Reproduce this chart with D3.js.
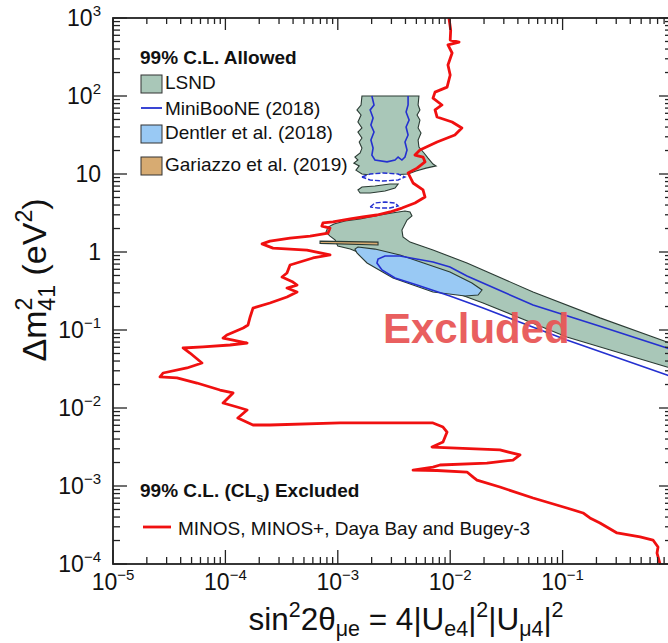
<!DOCTYPE html>
<html>
<head>
<meta charset="utf-8">
<script src="https://cdn.jsdelivr.net/npm/d3@7"></script>
<style>
  body { margin: 0; background: #fff; }
  text { font-family: "Liberation Sans", Arial, Helvetica, sans-serif; }
</style>
</head>
<body>
<svg id="chart" width="668" height="643"></svg>
<script>
// axis tick labels (powers of ten)
var xTickExp = [-5, -4, -3, -2, -1];
var yTickExp = [-4, -3, -2, -1, 0, 1, 2, 3];

// MINOS, MINOS+, Daya Bay and Bugey-3 exclusion, [sin^2 2theta, dm2]
var minosExcl = [
  [9.75e-3, 1000], [1.01e-2, 702], [1.00e-2, 522], [1.20e-2, 492], [9.55e-3, 451],
  [1.04e-2, 356], [9.55e-3, 250], [1.00e-2, 186], [9.38e-3, 130], [7.33e-3, 112],
  [7.03e-3, 94], [8.45e-3, 76.7], [7.33e-3, 66.2], [7.64e-3, 53.8], [1.04e-2, 46.4],
  [1.27e-2, 38.9], [1.10e-2, 31.6], [7.64e-3, 25.7], [5.38e-3, 20.3], [4.86e-3, 17.5],
  [5.73e-3, 16.5], [5.97e-3, 14.3], [5.07e-3, 11.9], [4.22e-3, 10.3], [4.67e-3, 7.67],
  [5.73e-3, 6.24], [5.97e-3, 5.07], [4.86e-3, 4.25], [3.72e-3, 3.66], [2.91e-3, 3.26],
  [2.23e-3, 2.98], [1.67e-3, 2.81], [1.29e-3, 2.65], [9.06e-4, 2.43], [7.38e-4, 2.36],
  [7.22e-4, 2.15], [8.53e-4, 2.03], [8.19e-4, 1.75], [5.67e-4, 1.60], [3.76e-4, 1.51],
  [2.49e-4, 1.38], [2.12e-4, 1.27], [2.65e-4, 1.12], [5.32e-4, 1.06], [8.53e-4, 0.916],
  [6.01e-4, 0.838], [3.76e-4, 0.681], [3.53e-4, 0.538], [3.19e-4, 0.478], [3.99e-4, 0.412],
  [4.34e-4, 0.377], [3.53e-4, 0.345], [4.34e-4, 0.307], [3.53e-4, 0.265], [2.49e-4, 0.222],
  [1.76e-4, 0.191], [1.66e-4, 0.147], [1.59e-4, 0.116], [1.44e-4, 0.106], [1.03e-4, 0.0863],
  [9.53e-5, 0.0789], [1.17e-4, 0.0744], [1.56e-4, 0.0681], [1.10e-4, 0.0642], [6.33e-5, 0.0606],
  [4.20e-5, 0.0588], [4.84e-5, 0.0507], [6.19e-5, 0.0378], [4.55e-5, 0.0326], [2.79e-5, 0.0281],
  [2.62e-5, 0.0250], [3.71e-5, 0.0243], [5.58e-5, 0.0209], [8.95e-5, 0.0170], [1.17e-4, 0.0156],
  [9.53e-5, 0.0116], [1.27e-4, 0.0103], [1.56e-4, 0.00942], [1.29e-4, 0.00744], [1.76e-4, 0.00605],
  [2.49e-4, 0.00605], [1.05e-3, 0.00643], [7.03e-3, 0.00643], [8.63e-3, 0.00570], [9.38e-3, 0.00492],
  [8.63e-3, 0.00366], [6.89e-3, 0.00316], [2.77e-2, 0.00290], [4.18e-2, 0.00250], [3.62e-2, 0.00215],
  [2.12e-2, 0.00197], [8.11e-3, 0.00186], [7.03e-3, 0.00175], [4.67e-3, 0.00160], [7.64e-3, 0.00158],
  [1.41e-2, 0.00151], [1.60e-2, 0.00130], [1.73e-2, 0.00119], [2.77e-2, 9.70e-4], [5.46e-2, 7.02e-4],
  [0.109, 5.22e-4], [0.152, 4.51e-4], [0.175, 3.89e-4], [0.215, 3.36e-4], [0.305, 2.50e-4],
  [0.489, 2.22e-4], [0.637, 2.03e-4], [0.706, 1.65e-4], [0.692, 1.38e-4], [0.736, 1.0e-4]
];

// LSND 99% allowed regions
var lsndColumn = [
  [1.64e-3, 100], [5.27e-3, 100], [5.18e-3, 76.7], [5.38e-3, 66.2], [5.07e-3, 57.1],
  [5.38e-3, 49.2], [5.18e-3, 38.9], [5.50e-3, 33.6], [5.18e-3, 27.3], [5.27e-3, 22.2],
  [5.85e-3, 18.6], [6.35e-3, 16.0], [7.03e-3, 13.4], [7.48e-3, 12.7], [6.10e-3, 11.9],
  [4.97e-3, 10.9], [4.22e-3, 10.0], [2.91e-3, 9.71], [1.94e-3, 9.71], [1.64e-3, 10.0],
  [1.45e-3, 11.2], [1.55e-3, 12.7], [1.39e-3, 13.8], [1.51e-3, 15.1], [1.42e-3, 16.5],
  [1.58e-3, 18.6], [1.64e-3, 21.5], [1.55e-3, 25.7], [1.64e-3, 29.0], [1.51e-3, 34.5],
  [1.64e-3, 38.9], [1.51e-3, 46.4], [1.61e-3, 57.1], [1.48e-3, 66.2], [1.61e-3, 76.7]
];
var lsndIsland = [
  [1.51e-3, 6.24], [1.64e-3, 6.81], [2.14e-3, 7.02], [2.91e-3, 7.44], [3.44e-3, 7.44],
  [3.23e-3, 6.62], [2.63e-3, 6.06], [1.94e-3, 5.70], [1.58e-3, 5.70]
];
var lsndBand = [
  [4.39e-3, 3.26], [4.57e-3, 2.90], [4.13e-3, 2.57], [3.72e-3, 1.91], [3.80e-3, 1.56],
  [4.39e-3, 1.34], [7.03e-3, 1.06], [1.41e-2, 0.723], [5.46e-2, 0.307], [0.215, 0.143],
  [0.849, 0.0702], [1.36, 0.0555], [1.36, 0.0273], [0.849, 0.0336], [0.109, 0.0813],
  [1.96e-2, 0.222], [8.11e-3, 0.356], [3.57e-3, 0.571], [1.94e-3, 0.863], [1.29e-3, 1.09],
  [1.00e-3, 1.19], [9.44e-4, 1.43], [8.53e-4, 1.60], [7.85e-4, 1.80], [8.19e-4, 2.09],
  [9.25e-4, 2.29], [1.16e-3, 2.50], [1.58e-3, 2.65], [2.14e-3, 2.90], [3.03e-3, 3.16],
  [3.96e-3, 3.36]
];

// Dentler et al. (2018)
var dentler = [
  [1.51e-3, 1.16], [2.14e-3, 1.09], [3.57e-3, 0.916], [9.95e-3, 0.555], [1.56e-2, 0.401],
  [1.92e-2, 0.326], [1.77e-2, 0.281], [1.36e-2, 0.273], [7.03e-3, 0.307], [3.10e-3, 0.464],
  [1.82e-3, 0.723], [1.48e-3, 0.971], [1.42e-3, 1.09]
];

// Gariazzo et al. (2019)
var gariazzo = [[6.95e-4, 1.38], [2.28e-3, 1.34], [2.28e-3, 1.23], [6.95e-4, 1.29]];

// MiniBooNE (2018) contours
var minibooneHigh = [
  [2.01e-3, 100], [2.10e-3, 76.7], [1.94e-3, 66.2], [2.06e-3, 52.2], [1.97e-3, 42.5],
  [2.10e-3, 34.5], [1.97e-3, 27.3], [2.06e-3, 21.5], [2.01e-3, 17.5], [2.14e-3, 15.1],
  [2.74e-3, 14.3], [3.23e-3, 15.1], [3.44e-3, 16.5], [3.72e-3, 15.1], [3.96e-3, 16.5],
  [4.13e-3, 20.3], [3.96e-3, 25.7], [4.22e-3, 31.6], [4.05e-3, 40.1], [4.31e-3, 49.2],
  [4.05e-3, 62.4], [4.22e-3, 76.7], [4.22e-3, 100]
];
var minibooneLow = [
  [1.36, 0.0464], [0.849, 0.0588], [0.215, 0.112], [5.46e-2, 0.209], [1.41e-2, 0.492],
  [9.95e-3, 0.642], [7.03e-3, 0.744], [3.57e-3, 0.889], [2.63e-3, 0.889], [2.28e-3, 0.813],
  [2.23e-3, 0.723], [2.47e-3, 0.588], [3.23e-3, 0.464], [5.07e-3, 0.378], [9.95e-3, 0.273],
  [1.96e-2, 0.191], [0.109, 0.0744], [0.849, 0.0265], [1.36, 0.0209]
];
var minibooneIsl1 = [
  [1.64e-3, 9.16], [1.94e-3, 10.0], [2.52e-3, 10.3], [3.44e-3, 10.0], [3.96e-3, 9.16],
  [3.44e-3, 8.38], [2.52e-3, 8.13], [1.94e-3, 8.38], [1.64e-3, 9.16]
];
var minibooneIsl2 = [
  [1.94e-3, 3.78], [2.14e-3, 4.25], [2.63e-3, 4.38], [3.23e-3, 4.25], [3.44e-3, 3.89],
  [2.91e-3, 3.66], [2.28e-3, 3.66], [1.94e-3, 3.78]
];

var allowedLegend = [
  { label: 'LSND', type: 'box', fill: '#a9c7b8', y: 89 },
  { label: 'MiniBooNE (2018)', type: 'line', color: '#2430d0', y: 115 },
  { label: 'Dentler et al. (2018)', type: 'box', fill: '#99c9f4', y: 139 },
  { label: 'Gariazzo et al. (2019)', type: 'box', fill: '#d7ab72', y: 171 }
];

var svg = d3.select('#chart');
var pL = 113, pR = 675, pT = 18, pB = 564;

var x = d3.scaleLog().domain([1e-5, 1]).range([pL, pR]);
var y = d3.scaleLog().domain([1e-4, 1e3]).range([pB, pT]);

svg.append('defs').append('clipPath').attr('id', 'plotClip')
  .append('rect').attr('x', pL).attr('y', pT)
  .attr('width', pR - pL).attr('height', pB - pT);

var plot = svg.append('g').attr('clip-path', 'url(#plotClip)');

var line = d3.line()
  .x(function (d) { return x(d[0]); })
  .y(function (d) { return y(d[1]); });

function region(data, fill) {
  plot.append('path')
    .attr('d', line(data) + 'Z')
    .attr('fill', fill)
    .attr('stroke', '#2a3a33')
    .attr('stroke-width', 1.1);
}

region(lsndColumn, '#a9c7b8');
region(lsndIsland, '#a9c7b8');
region(lsndBand, '#a9c7b8');
region(dentler, '#99c9f4');

[minibooneHigh, minibooneLow].forEach(function (d) {
  plot.append('path').attr('d', line(d))
    .attr('fill', 'none').attr('stroke', '#2430d0').attr('stroke-width', 1.6);
});
[minibooneIsl1, minibooneIsl2].forEach(function (d) {
  plot.append('path').attr('d', line(d))
    .attr('fill', '#ffffff').attr('stroke', '#2430d0')
    .attr('stroke-width', 1.4).attr('stroke-dasharray', '5,2');
});

region(gariazzo, '#d7ab72');

plot.append('path').attr('d', line(minosExcl))
  .attr('fill', 'none').attr('stroke', '#f01010')
  .attr('stroke-width', 2.8).attr('stroke-linejoin', 'round');

// frame and ticks on all sides
svg.append('rect')
  .attr('x', pL).attr('y', pT)
  .attr('width', pR - pL).attr('height', pB - pT)
  .attr('fill', 'none').attr('stroke', '#222').attr('stroke-width', 1.8);

function isMajor(v) {
  var e = Math.log10(v);
  return Math.abs(e - Math.round(e)) < 1e-6;
}

var ticks = svg.append('g').attr('stroke', '#222').attr('stroke-width', 1.3);
x.ticks().forEach(function (v) {
  var px = x(v), maj = isMajor(v);
  ticks.append('line').attr('x1', px).attr('x2', px)
    .attr('y1', pB).attr('y2', pB - (maj ? 14 : 7));
  ticks.append('line').attr('x1', px).attr('x2', px)
    .attr('y1', pT).attr('y2', pT + (maj ? 12 : 6));
});
y.ticks().forEach(function (v) {
  var py = y(v), maj = isMajor(v);
  ticks.append('line').attr('y1', py).attr('y2', py)
    .attr('x1', pL).attr('x2', pL + (maj ? 14 : 7));
  ticks.append('line').attr('y1', py).attr('y2', py)
    .attr('x1', pR).attr('x2', pR - (maj ? 16 : 10));
});

function powLabel(sel, e) {
  if (e === 0) { sel.append('tspan').text('1'); return; }
  sel.append('tspan').text('10');
  if (e !== 1) {
    sel.append('tspan').attr('dy', -10).attr('font-size', 15)
      .text(e < 0 ? '\u2212' + (-e) : String(e));
  }
}

yTickExp.forEach(function (e) {
  var t = svg.append('text')
    .attr('x', 101).attr('y', y(Math.pow(10, e)) + 8)
    .attr('text-anchor', 'end').attr('font-size', 23).attr('fill', '#111');
  powLabel(t, e);
});
xTickExp.forEach(function (e) {
  var t = svg.append('text')
    .attr('x', x(Math.pow(10, e))).attr('y', 590)
    .attr('text-anchor', 'middle').attr('font-size', 23).attr('fill', '#111');
  powLabel(t, e);
});

// rich text helper: pieces [text, shift] where shift 1 = sup, -1 = sub
function rich(sel, pieces, size, subShift) {
  var cur = 0, sub = subShift === undefined ? 0.25 : subShift;
  pieces.forEach(function (p) {
    var target = p[1] === 1 ? -0.42 * size : (p[1] === -1 ? sub * size : 0);
    var ts = sel.append('tspan').attr('dy', target - cur).text(p[0]);
    if (p[1] !== 0) ts.attr('font-size', size * 0.68);
    if (p[2]) ts.attr('dx', p[2]);
    cur = target;
  });
}

var xt = svg.append('text').attr('x', 406).attr('y', 630)
  .attr('text-anchor', 'middle').attr('font-size', 31.5).attr('fill', '#111');
rich(xt, [['sin', 0], ['2', 1], ['2\u03b8', 0], ['\u03bce', -1], [' = 4|U', 0], ['e4', -1],
  ['|', 0], ['2', 1], ['|U', 0], ['\u03bc4', -1], ['|', 0], ['2', 1]], 31.5, 0.2);

var yt = svg.append('text')
  .attr('transform', 'translate(46,280) rotate(-90)')
  .attr('text-anchor', 'middle').attr('font-size', 34).attr('fill', '#111');
rich(yt, [['\u0394m', 0], ['2', 1], ['41', -1, -13], [' (eV', 0], ['2', 1], [')', 0]], 34);

// legends
svg.append('text').attr('x', 140).attr('y', 64)
  .attr('font-size', 19).attr('font-weight', 'bold').attr('fill', '#111')
  .text('99% C.L. Allowed');

allowedLegend.forEach(function (d) {
  if (d.type === 'box') {
    svg.append('rect').attr('x', 141).attr('y', d.y - 14)
      .attr('width', 21).attr('height', 18)
      .attr('fill', d.fill).attr('stroke', '#333').attr('stroke-width', 1);
  } else {
    svg.append('line').attr('x1', 141).attr('x2', 162)
      .attr('y1', d.y - 7).attr('y2', d.y - 7)
      .attr('stroke', d.color).attr('stroke-width', 1.8);
  }
  svg.append('text').attr('x', 165).attr('y', d.y)
    .attr('font-size', 19).attr('fill', '#111').text(d.label);
});

var ex = svg.append('text').attr('x', 140).attr('y', 497)
  .attr('font-size', 19).attr('font-weight', 'bold').attr('fill', '#111');
rich(ex, [['99% C.L. (CL', 0], ['s', -1], [') Excluded', 0]], 19);

svg.append('line').attr('x1', 143).attr('x2', 171).attr('y1', 527).attr('y2', 527)
  .attr('stroke', '#f01010').attr('stroke-width', 2.8);
svg.append('text').attr('x', 178).attr('y', 535)
  .attr('font-size', 19).attr('fill', '#111')
  .text('MINOS, MINOS+, Daya Bay and Bugey-3');

svg.append('text').attr('x', 383).attr('y', 343)
  .attr('font-size', 42).attr('font-weight', 'bold')
  .attr('fill', '#e85757').attr('opacity', 0.95)
  .text('Excluded');
</script>
</body>
</html>
